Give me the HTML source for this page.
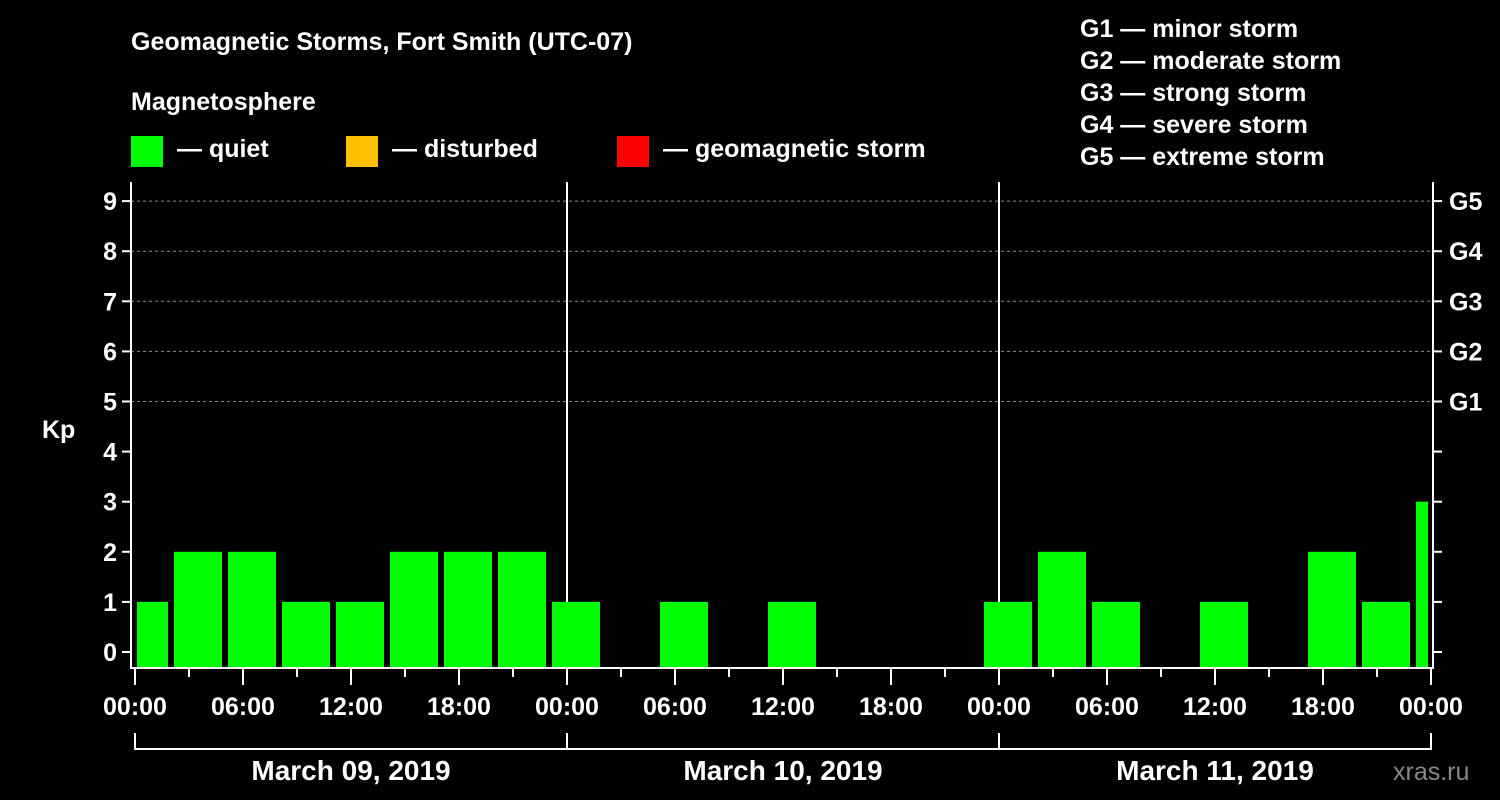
<!DOCTYPE html>
<html><head><meta charset="utf-8"><style>
body{margin:0;background:#000;width:1500px;height:800px;overflow:hidden}
svg{display:block;font-family:"Liberation Sans",sans-serif;font-weight:bold}
</style></head><body>
<svg id="chart" width="1500" height="800" viewBox="0 0 1500 800">
<rect width="1500" height="800" fill="#000"/>
<text x="131" y="50" fill="#fff" font-size="25">Geomagnetic Storms, Fort Smith (UTC-07)</text>
<text x="131" y="110" fill="#fff" font-size="25">Magnetosphere</text>
<g><rect x="131" y="136" width="32" height="31" fill="#00ff00"/><text x="177" y="157" fill="#fff" font-size="25">— quiet</text></g>
<g><rect x="346" y="136" width="32" height="31" fill="#ffc000"/><text x="392" y="157" fill="#fff" font-size="25">— disturbed</text></g>
<g><rect x="617" y="136" width="32" height="31" fill="#ff0000"/><text x="663" y="157" fill="#fff" font-size="25">— geomagnetic storm</text></g>
<g fill="#fff" font-size="25">
<text x="1080" y="37">G1 — minor storm</text><text x="1080" y="69">G2 — moderate storm</text><text x="1080" y="101">G3 — strong storm</text><text x="1080" y="133">G4 — severe storm</text><text x="1080" y="165">G5 — extreme storm</text></g>
<text x="42" y="438" fill="#fff" font-size="25">Kp</text>
<g id="grid"></g><g id="bars"></g><g id="axes"></g>
<text x="1393" y="780" fill="#888" font-size="25" font-weight="normal">xras.ru</text>
</svg>
<script>
const days=["March 09, 2019","March 10, 2019","March 11, 2019"];
const kpValues=[1,2,2,1,1,2,2,2,1, 0,1,0,1,0,0,0,1, 2,1,0,1,0,2,1,3];
const yTicks=[0,1,2,3,4,5,6,7,8,9];
const gLabels=["G1","G2","G3","G4","G5"];
const xTickLabels=["00:00","06:00","12:00","18:00"];
const NS="http://www.w3.org/2000/svg";
const X0=135,DAYW=432,HOURS=72;
const xs=h=>X0+h*DAYW/24;
const ys=k=>652-k*50.1;
const PL=131,PR=1433,PT=182,PB=668;
function mk(tag,attrs,parent){const e=document.createElementNS(NS,tag);for(const k in attrs)e.setAttribute(k,attrs[k]);parent.appendChild(e);return e;}
const grid=document.getElementById('grid'),bars=document.getElementById('bars'),axes=document.getElementById('axes');
yTicks.forEach(v=>{
 if(v>=5){const l=mk('line',{x1:PL,x2:PR,y1:ys(v),y2:ys(v),stroke:'#888','stroke-dasharray':'3,3','stroke-width':1},grid);
 
 }
 const t=mk('line',{x1:PL-9,x2:PL,y1:ys(v),y2:ys(v),stroke:'#fff','stroke-width':2},axes);
 
 
 const t2=mk('line',{x1:PR,x2:PR+9,y1:ys(v),y2:ys(v),stroke:'#fff','stroke-width':2},axes);
 
 
 const tx=mk('text',{x:PL-14,y:ys(v)+9,fill:'#fff','font-size':25,'text-anchor':'end'},axes);tx.textContent=v;
 
 
});
gLabels.forEach((g,i)=>{const tx=mk('text',{x:1449,y:ys(5+i)+9,fill:'#fff','font-size':25},axes);tx.textContent=g;
 
 });
for(let d=1;d<days.length;d++){const l=mk('line',{x1:xs(d*24),x2:xs(d*24),y1:PT,y2:PB,stroke:'#fff','stroke-width':2},grid);
 
 }
kpValues.forEach((v,i)=>{
 if(v<=0)return;
 let h0=-1+3*i,h1=h0+3;
 let x0=Math.max(xs(h0)+3,X0+2),x1=Math.min(xs(h1)-3,xs(HOURS)-3);
 const r=mk('rect',{x:x0,y:ys(v),width:x1-x0,height:PB-ys(v),fill:'#00ff00'},bars);
 
 
});
mk('path',{d:`M${PL} ${PT}V${PB}H${PR}V${PT}`,stroke:'#fff','stroke-width':2,fill:'none'},axes);
for(let h=0;h<=HOURS;h+=3){const major=h%6===0;
 const t=mk('line',{x1:xs(h),x2:xs(h),y1:PB,y2:PB+(major?17:9),stroke:'#fff','stroke-width':2},axes);
 
 
 if(major){const tx=mk('text',{x:xs(h),y:715,fill:'#fff','font-size':25,'text-anchor':'middle'},axes);tx.textContent=xTickLabels[(h%24)/6];
 
 }}
mk('path',{d:`M${xs(0)} 733V749H${xs(HOURS)}V733`,stroke:'#fff','stroke-width':2,fill:'none'},axes);
days.forEach((d,i)=>{
 if(i>0){mk('line',{x1:xs(i*24),x2:xs(i*24),y1:733,y2:749,stroke:'#fff','stroke-width':2},axes);}
 const tx=mk('text',{x:xs(i*24+12),y:780,fill:'#fff','font-size':28,'text-anchor':'middle'},axes);tx.textContent=d;
 
 
});
</script>
</body></html>
